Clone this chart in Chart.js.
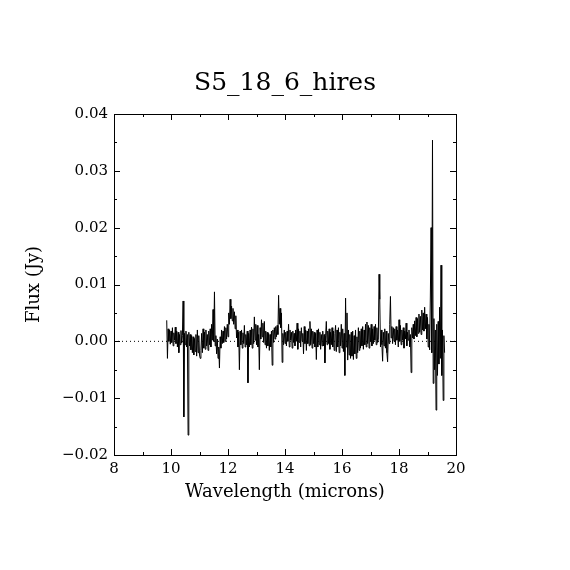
<!DOCTYPE html>
<html>
<head>
<meta charset="UTF-8">
<title>S5_18_6_hires</title>
<script src="https://cdn.jsdelivr.net/npm/chart.js"></script>
<style>
  html, body { margin: 0; padding: 0; background: #fff; }
  #chart { display: block; }
</style>
</head>
<body>
<canvas id="chart" width="570" height="570"></canvas>
<script>
// spectrum (microns, Jy)
const wavelength = [
  9.850, 9.875, 9.900, 9.925, 9.950, 9.975, 10.000, 10.025, 10.050, 10.075, 10.100, 10.125, 10.150, 10.175, 10.200, 10.225, 10.250, 10.275, 10.300, 10.325,
  10.350, 10.375, 10.400, 10.425, 10.450, 10.475, 10.500, 10.525, 10.550, 10.575, 10.600, 10.625, 10.650, 10.675, 10.700, 10.725, 10.750, 10.775, 10.800, 10.825,
  10.850, 10.875, 10.900, 10.925, 10.950, 10.975, 11.000, 11.025, 11.050, 11.075, 11.100, 11.125, 11.150, 11.175, 11.200, 11.225, 11.250, 11.275, 11.300, 11.325,
  11.350, 11.375, 11.400, 11.425, 11.450, 11.475, 11.500, 11.525, 11.550, 11.575, 11.600, 11.625, 11.650, 11.675, 11.700, 11.725, 11.750, 11.775, 11.800, 11.825,
  11.850, 11.875, 11.900, 11.925, 11.950, 11.975, 12.000, 12.025, 12.050, 12.075, 12.100, 12.125, 12.150, 12.175, 12.200, 12.225, 12.250, 12.275, 12.300, 12.325,
  12.350, 12.375, 12.400, 12.425, 12.450, 12.475, 12.500, 12.525, 12.550, 12.575, 12.600, 12.625, 12.650, 12.675, 12.700, 12.725, 12.750, 12.775, 12.800, 12.825,
  12.850, 12.875, 12.900, 12.925, 12.950, 12.975, 13.000, 13.025, 13.050, 13.075, 13.100, 13.125, 13.150, 13.175, 13.200, 13.225, 13.250, 13.275, 13.300, 13.325,
  13.350, 13.375, 13.400, 13.425, 13.450, 13.475, 13.500, 13.525, 13.550, 13.575, 13.600, 13.625, 13.650, 13.675, 13.700, 13.725, 13.750, 13.775, 13.800, 13.825,
  13.850, 13.875, 13.900, 13.925, 13.950, 13.975, 14.000, 14.025, 14.050, 14.075, 14.100, 14.125, 14.150, 14.175, 14.200, 14.225, 14.250, 14.275, 14.300, 14.325,
  14.350, 14.375, 14.400, 14.425, 14.450, 14.475, 14.500, 14.525, 14.550, 14.575, 14.600, 14.625, 14.650, 14.675, 14.700, 14.725, 14.750, 14.775, 14.800, 14.825,
  14.850, 14.875, 14.900, 14.925, 14.950, 14.975, 15.000, 15.025, 15.050, 15.075, 15.100, 15.125, 15.150, 15.175, 15.200, 15.225, 15.250, 15.275, 15.300, 15.325,
  15.350, 15.375, 15.400, 15.425, 15.450, 15.475, 15.500, 15.525, 15.550, 15.575, 15.600, 15.625, 15.650, 15.675, 15.700, 15.725, 15.750, 15.775, 15.800, 15.825,
  15.850, 15.875, 15.900, 15.925, 15.950, 15.975, 16.000, 16.025, 16.050, 16.075, 16.100, 16.125, 16.150, 16.175, 16.200, 16.225, 16.250, 16.275, 16.300, 16.325,
  16.350, 16.375, 16.400, 16.425, 16.450, 16.475, 16.500, 16.525, 16.550, 16.575, 16.600, 16.625, 16.650, 16.675, 16.700, 16.725, 16.750, 16.775, 16.800, 16.825,
  16.850, 16.875, 16.900, 16.925, 16.950, 16.975, 17.000, 17.025, 17.050, 17.075, 17.100, 17.125, 17.150, 17.175, 17.200, 17.225, 17.250, 17.275, 17.300, 17.325,
  17.350, 17.375, 17.400, 17.425, 17.450, 17.475, 17.500, 17.525, 17.550, 17.575, 17.600, 17.625, 17.650, 17.675, 17.700, 17.725, 17.750, 17.775, 17.800, 17.825,
  17.850, 17.875, 17.900, 17.925, 17.950, 17.975, 18.000, 18.025, 18.050, 18.075, 18.100, 18.125, 18.150, 18.175, 18.200, 18.225, 18.250, 18.275, 18.300, 18.325,
  18.350, 18.375, 18.400, 18.425, 18.450, 18.475, 18.500, 18.525, 18.550, 18.575, 18.600, 18.625, 18.650, 18.675, 18.700, 18.725, 18.750, 18.775, 18.800, 18.825,
  18.850, 18.875, 18.900, 18.925, 18.950, 18.975, 19.000, 19.025, 19.050, 19.075, 19.100, 19.125, 19.150, 19.175, 19.200, 19.225, 19.250, 19.275, 19.300, 19.325,
  19.350, 19.375, 19.400, 19.425, 19.450, 19.475, 19.500, 19.525, 19.550, 19.575, 19.600
];
const flux = [
  0.0037, -0.0030, 0.0022, 0.0000, 0.0020, -0.0005, 0.0018, -0.0002, 0.0024, -0.0008, 0.0015, 0.0002, 0.0025, -0.0004, 0.0018, -0.0010, 0.0016, -0.0020, 0.0012, -0.0006,
  0.0019, -0.0003, 0.0010, 0.0071, -0.0133, 0.0014, -0.0006, 0.0018, -0.0010, 0.0012, -0.0165, 0.0016, -0.0008, 0.0012, -0.0015, 0.0010, -0.0020, 0.0008, -0.0024, 0.0005,
  -0.0018, 0.0012, -0.0026, 0.0020, -0.0020, 0.0010, -0.0024, -0.0030, -0.0016, 0.0014, -0.0020, 0.0022, -0.0012, 0.0016, -0.0014, 0.0020, -0.0008, 0.0012, -0.0016, 0.0018,
  -0.0006, 0.0022, -0.0010, 0.0030, 0.0002, 0.0056, 0.0000, 0.0087, -0.0008, 0.0010, -0.0022, 0.0004, -0.0030, -0.0010, -0.0047, 0.0008, -0.0012, 0.0020, -0.0004, 0.0018,
  -0.0002, 0.0026, 0.0000, 0.0024, 0.0004, 0.0030, 0.0008, 0.0050, 0.0030, 0.0074, 0.0040, 0.0062, 0.0036, 0.0058, 0.0030, 0.0052, 0.0022, 0.0045, 0.0006, 0.0020,
  -0.0010, 0.0016, -0.0050, 0.0018, -0.0006, 0.0020, -0.0012, 0.0015, -0.0004, 0.0028, -0.0010, 0.0012, -0.0006, 0.0018, -0.0073, 0.0014, -0.0010, 0.0020, -0.0006, 0.0025,
  -0.0012, 0.0022, -0.0004, 0.0043, 0.0002, 0.0030, -0.0006, 0.0028, -0.0010, 0.0012, -0.0050, 0.0024, 0.0004, 0.0038, 0.0008, 0.0032, -0.0002, 0.0035, -0.0006, 0.0018,
  -0.0012, 0.0016, -0.0008, 0.0014, -0.0016, 0.0012, -0.0010, 0.0018, -0.0042, 0.0020, -0.0002, 0.0024, 0.0004, 0.0026, 0.0008, 0.0028, 0.0012, 0.0081, 0.0030, 0.0058,
  0.0024, 0.0050, -0.0037, 0.0014, -0.0006, 0.0020, -0.0004, 0.0016, -0.0008, 0.0018, 0.0000, 0.0030, -0.0010, 0.0020, 0.0002, 0.0016, -0.0012, 0.0018, -0.0002, 0.0014,
  -0.0008, 0.0020, 0.0000, 0.0032, -0.0014, 0.0022, -0.0002, 0.0018, -0.0010, 0.0024, 0.0000, 0.0014, -0.0022, 0.0026, -0.0004, 0.0020, -0.0016, 0.0018, -0.0004, 0.0022,
  -0.0008, 0.0035, -0.0006, 0.0022, -0.0012, 0.0018, -0.0004, 0.0016, -0.0010, 0.0014, -0.0032, 0.0020, -0.0010, 0.0022, -0.0006, 0.0016, -0.0014, 0.0012, -0.0008, 0.0018,
  -0.0008, 0.0012, -0.0038, 0.0010, 0.0035, -0.0006, 0.0018, -0.0004, 0.0022, -0.0014, 0.0016, -0.0006, 0.0024, -0.0010, 0.0018, -0.0016, 0.0014, 0.0028, -0.0018, 0.0020,
  -0.0010, 0.0024, -0.0020, 0.0016, -0.0008, 0.0030, -0.0012, 0.0022, -0.0018, 0.0014, -0.0060, 0.0076, -0.0010, 0.0050, -0.0033, 0.0020, -0.0024, 0.0012, -0.0030, 0.0016,
  -0.0026, 0.0018, -0.0032, 0.0010, -0.0022, 0.0020, -0.0030, 0.0008, -0.0020, 0.0024, -0.0016, 0.0018, -0.0012, 0.0022, -0.0008, 0.0026, -0.0014, 0.0020, -0.0006, 0.0030,
  -0.0010, 0.0034, -0.0004, 0.0028, -0.0012, 0.0024, 0.0000, 0.0030, -0.0008, 0.0022, -0.0004, 0.0026, 0.0002, 0.0030, -0.0006, 0.0024, -0.0002, 0.0004, 0.0118, 0.0074,
  -0.0010, 0.0020, -0.0006, -0.0035, 0.0016, -0.0008, 0.0022, -0.0012, 0.0018, -0.0020, -0.0036, 0.0014, -0.0004, 0.0030, 0.0079, 0.0006, 0.0026, -0.0004, 0.0024, 0.0000,
  0.0022, -0.0006, 0.0026, 0.0002, 0.0020, -0.0010, 0.0038, 0.0000, 0.0028, -0.0006, 0.0020, 0.0002, 0.0024, -0.0012, 0.0018, 0.0004, 0.0032, -0.0008, 0.0016, 0.0002,
  0.0020, -0.0010, 0.0012, -0.0055, 0.0024, 0.0006, 0.0030, 0.0004, 0.0036, 0.0010, 0.0042, 0.0008, 0.0040, 0.0014, 0.0048, 0.0016, 0.0044, 0.0012, 0.0055, 0.0020,
  0.0050, 0.0018, 0.0060, 0.0022, 0.0048, 0.0004, 0.0042, -0.0010, 0.0030, -0.0015, 0.0078, 0.0200, -0.0020, 0.0354, -0.0074, 0.0040, -0.0050, 0.0020, -0.0121, 0.0030,
  -0.0060, 0.0035, -0.0040, 0.0060, -0.0030, 0.0134, -0.0060, 0.0020, -0.0104, 0.0010, -0.0020
];
const xMajor = [8, 10, 12, 14, 16, 18, 20];
const xMinor = [9, 11, 13, 15, 17, 19];
const yMajor = [-0.02, -0.01, 0.00, 0.01, 0.02, 0.03, 0.04];
const yMinor = [-0.015, -0.005, 0.005, 0.015, 0.025, 0.035];
const zeroLine = [{x: 8, y: 0}, {x: 20, y: 0}];

const serif = "'DejaVu Serif', 'Liberation Serif', serif";
Chart.defaults.color = '#000';

// box with inward ticks on all four sides
const frameTicks = {
  id: 'frameTicks',
  afterDraw(chart) {
    const ctx = chart.ctx, a = chart.chartArea;
    const xs = chart.scales.x, ys = chart.scales.y;
    ctx.save();
    ctx.strokeStyle = '#000';
    ctx.lineWidth = 1;
    ctx.strokeRect(a.left + 0.5, a.top + 0.5, a.right - a.left, a.bottom - a.top);
    ctx.beginPath();
    const tx = (v, len) => {
      const p = Math.round(xs.getPixelForValue(v)) + 0.5;
      ctx.moveTo(p, a.bottom); ctx.lineTo(p, a.bottom - len);
      ctx.moveTo(p, a.top); ctx.lineTo(p, a.top + len);
    };
    const ty = (v, len) => {
      const p = Math.round(ys.getPixelForValue(v)) + 0.5;
      ctx.moveTo(a.left, p); ctx.lineTo(a.left + len, p);
      ctx.moveTo(a.right, p); ctx.lineTo(a.right - len, p);
    };
    xMajor.forEach(v => tx(v, 6));
    xMinor.forEach(v => tx(v, 3));
    yMajor.forEach(v => ty(v, 6));
    yMinor.forEach(v => ty(v, 3));
    ctx.stroke();
    ctx.restore();
  }
};

new Chart(document.getElementById('chart'), {
  type: 'line',
  data: {
    datasets: [
      {
        data: wavelength.map((w, i) => ({x: w, y: flux[i]})),
        borderColor: '#000',
        borderWidth: 1,
        pointRadius: 0,
        tension: 0,
        order: 1
      },
      {
        data: zeroLine,
        borderColor: '#000',
        borderWidth: 1,
        borderDash: [1, 3],
        pointRadius: 0,
        order: 2
      }
    ]
  },
  options: {
    responsive: false,
    devicePixelRatio: 1,
    animation: false,
    layout: { padding: 0 },
    plugins: {
      legend: { display: false },
      tooltip: { enabled: false },
      title: {
        display: true,
        text: 'S5_18_6_hires',
        font: { family: serif, size: 25, weight: 'normal' },
        padding: { top: 68, bottom: 16 }
      }
    },
    scales: {
      x: {
        type: 'linear',
        min: 8, max: 20,
        afterFit(scale) { scale.height = 115; },
        afterBuildTicks(scale) { scale.ticks = xMajor.map(v => ({value: v})); },
        grid: { display: false, drawTicks: false },
        border: { display: false },
        ticks: { padding: 5, maxRotation: 0, font: { family: serif, size: 15 } },
        title: {
          display: true,
          text: 'Wavelength (microns)',
          font: { family: serif, size: 18 },
          padding: { top: 0, bottom: 67 }
        }
      },
      y: {
        type: 'linear',
        min: -0.02, max: 0.04,
        afterFit(scale) { scale.width = 114; },
        afterBuildTicks(scale) { scale.ticks = yMajor.map(v => ({value: v})); },
        grid: { display: false, drawTicks: false },
        border: { display: false },
        ticks: {
          padding: 6,
          font: { family: serif, size: 15 },
          callback: v => v.toFixed(2).replace('-', '\u2212')
        },
        title: {
          display: true,
          text: 'Flux (Jy)',
          font: { family: serif, size: 18 },
          padding: { top: 24, bottom: 0 }
        }
      },
      // empty right-hand margin so the frame sits centred
      yRight: {
        type: 'linear',
        position: 'right',
        min: -0.02, max: 0.04,
        afterFit(scale) { scale.width = 114; },
        grid: { display: false, drawTicks: false },
        border: { display: false },
        ticks: { display: false }
      }
    }
  },
  plugins: [frameTicks]
});
</script>
</body>
</html>
